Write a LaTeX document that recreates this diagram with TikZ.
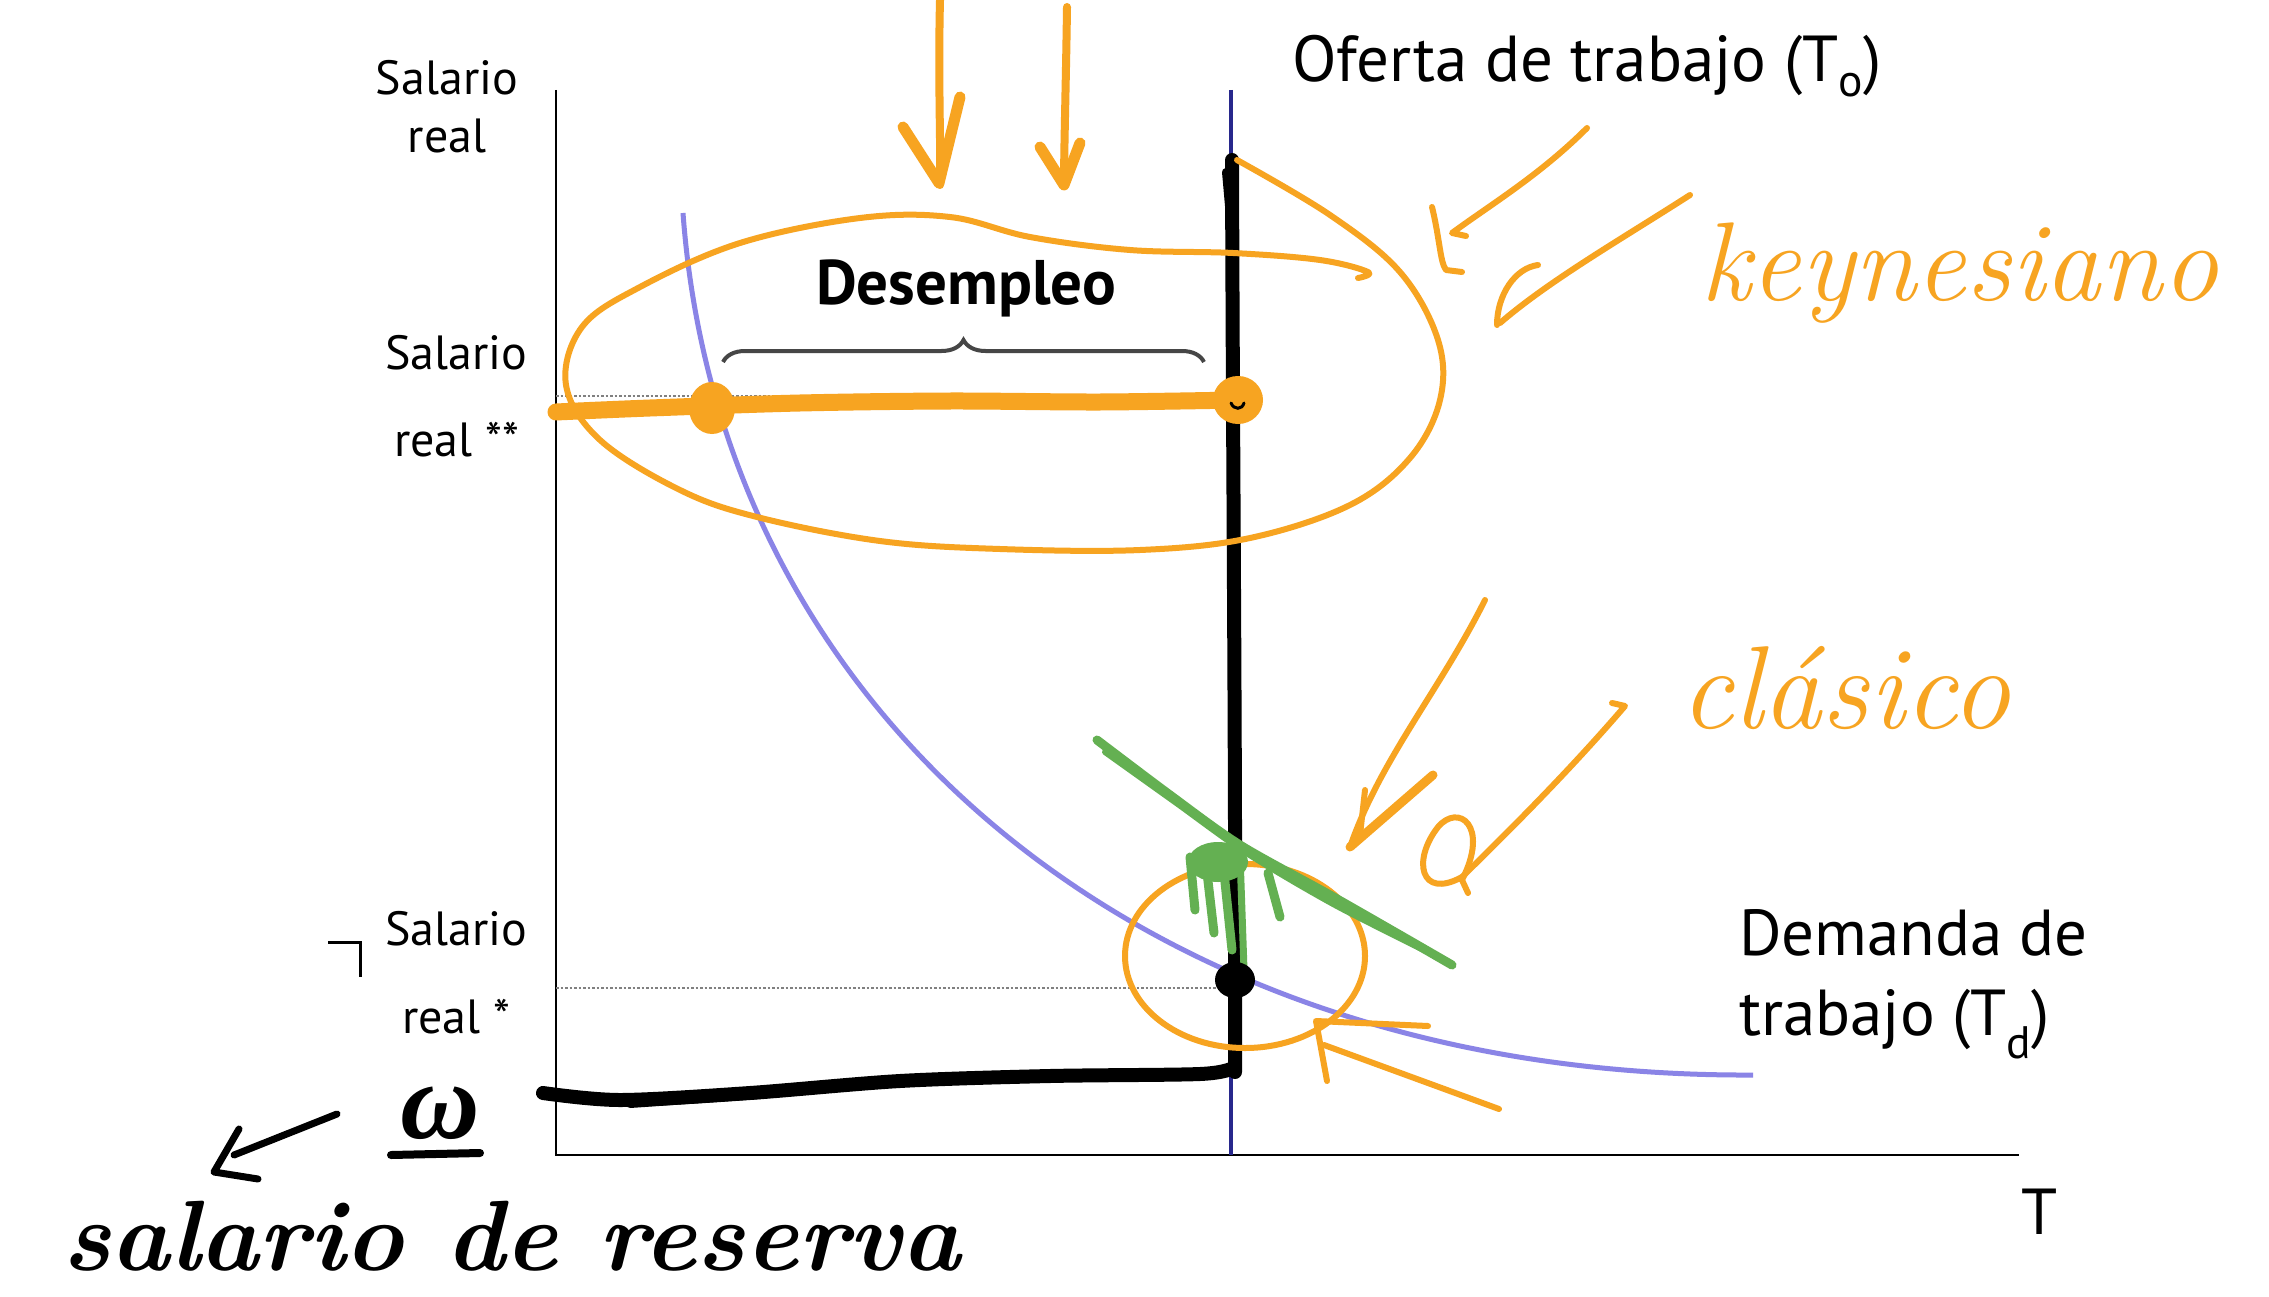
\documentclass[tikz,border=0pt]{standalone}
\usepackage{fontspec}
\setsansfont{PT Sans}
\newfontfamily\grk{Liberation Serif}
\usetikzlibrary{decorations.pathreplacing}
\definecolor{hor}{RGB}{247,164,33}
\definecolor{dem}{RGB}{138,132,230}
\definecolor{sup}{RGB}{40,40,140}
\definecolor{grn}{RGB}{100,176,82}
\definecolor{brc}{RGB}{70,70,70}
\begin{document}
\begin{tikzpicture}[x=1pt,y=-1pt,
  lbl/.style={font=\sffamily\fontsize{48}{58}\selectfont, inner sep=0pt},
  big/.style={font=\sffamily\fontsize{65}{78}\selectfont, inner sep=0pt, anchor=base west},
  hnd/.style={font=\rmfamily\itshape\fontsize{112}{130}\selectfont, inner sep=0pt, anchor=base west},
  ostroke/.style={draw=hor, line width=8, line cap=round, line join=round},
  othin/.style={draw=hor, line width=6, line cap=round, line join=round},
  kstroke/.style={draw=black, line width=7, line cap=round, line join=round},
  gstroke/.style={draw=grn, line width=9, line cap=round, line join=round}]
\useasboundingbox (0,0) rectangle (2269,1297);
\fill[white] (0,0) rectangle (2269,1297);

% axes
\coordinate (O) at (556,1155);
\coordinate (ytop) at (556,90);
\coordinate (xend) at (2019,1155);
\draw[line width=2.5] (ytop) -- (O) -- (xend);

% dotted guides
\coordinate (d1a) at (556,396); \coordinate (d1b) at (1231,396);
\coordinate (d2a) at (556,988); \coordinate (d2b) at (1231,988);
\draw[gray, line width=2.5, dotted] (d1a) -- (d1b);
\draw[gray, line width=2.5, dotted] (d2a) -- (d2b);

% demand curve
\coordinate (dtop) at (683,213);
\coordinate (dend) at (1753,1075);
\draw[dem, line width=5] (dtop) .. controls (720,720) and (1150,1078) .. (dend);

% supply line
\coordinate (stop) at (1231,90);
\coordinate (sbot) at (1231,1155);
\draw[sup, line width=4] (stop) -- (sbot);

% labels
\node[lbl, anchor=base] (s1) at (447,95) {Salario};
\node[lbl, anchor=base] (r1) at (447,153) {real};
\node[lbl, anchor=base west] (s2) at (385,369) {Salario};
\node[lbl, anchor=base west] (r2) at (394,456) {real **};
\node[lbl, anchor=base west] (s3) at (385,945) {Salario};
\node[lbl, anchor=base west] (r3) at (402,1033) {real *};
\node[big] (of) at (1292,82) {Oferta de trabajo (T\textsubscript{o})};
\node[big] (dm1) at (1739,955) {Demanda de};
\node[big] (dm2) at (1739,1035) {trabajo (T\textsubscript{d})};
\node[big, anchor=base] (T) at (2040,1234) {T};
\node[big, font=\sffamily\bfseries\fontsize{63}{76}\selectfont] (des) at (816,305) {Desempleo};

% brace
\coordinate (bra) at (723,362); \coordinate (brb) at (1204,362);
\draw[brc, line width=4, decorate, decoration={brace, amplitude=22}] (bra) -- (brb);

% black hand strokes
\draw[black, line width=14, line cap=round] (1232,160) .. controls (1233,500) and (1236,800) .. (1235,1072);
\draw[black, line width=8, line cap=round] (1226,172) -- (1232,240);
\draw[black, line width=14, line cap=round, line join=round] plot[smooth, tension=0.5] coordinates {(543,1093) (620,1100) (750,1093) (900,1081) (1050,1076) (1200,1074) (1233,1068)};
\draw[black, line width=8, line cap=round] (630,1104) -- (760,1095);

% orange thick unemployment line and dots
\draw[hor, line width=17, line cap=round] plot[smooth, tension=0.5] coordinates {(556,412) (650,408) (800,403) (950,401) (1100,402) (1237,400)};
\fill[hor] (712,408) ellipse [x radius=23, y radius=26];
\fill[hor] (1238,400) ellipse [x radius=25, y radius=24];
\draw[black, line width=3, line cap=round] (1231,403) .. controls (1234,410) and (1242,410) .. (1244,403);

% big orange loop
\draw[othin] plot[smooth, tension=0.6] coordinates {(1237,160) (1330,215) (1400,272) (1438,340) (1440,400) (1410,458) (1350,505) (1250,538) (1140,550) (1000,549) (880,541) (757,517) (680,490) (600,440) (566,385) (582,327) (640,287) (740,243) (860,218) (950,217) (1030,237) (1130,250) (1233,253) (1320,260) (1368,272) (1358,278)};

% top arrows
\draw[ostroke] (940,0) .. controls (938,80) and (941,150) .. (940,185);
\draw[ostroke, line width=11] (903,127) -- (939,183) -- (960,97);
\draw[ostroke] (1067,7) .. controls (1066,80) and (1064,150) .. (1064,185);
\draw[ostroke, line width=11] (1040,147) -- (1064,185) -- (1080,143);

% arrows toward keynesiano
\draw[othin] (1587,128) .. controls (1540,175) and (1490,205) .. (1452,233) -- (1466,236);
\draw[othin] (1432,207) .. controls (1440,240) and (1440,262) .. (1446,270) -- (1462,272);
\draw[othin] (1690,195) .. controls (1620,240) and (1550,280) .. (1500,323);
\draw[othin] (1538,265) .. controls (1515,268) and (1497,295) .. (1497,325);

% arrows toward clasico
\draw[othin] (1485,600) .. controls (1440,690) and (1380,760) .. (1350,847);
\draw[ostroke, line width=9] (1350,847) -- (1433,775);
\draw[othin] (1365,790) -- (1360,835);
\draw[othin] (1612,703) -- (1625,706) .. controls (1570,770) and (1510,830) .. (1462,877);
\draw[othin] (1462,877) .. controls (1420,900) and (1412,860) .. (1438,827) .. controls (1458,803) and (1490,825) .. (1462,880) -- (1468,893);

% small orange circle and arrow
\draw[othin] (1245,956) ellipse [x radius=120, y radius=92];
\draw[othin] (1428,1026) -- (1316,1021) -- (1327,1081);
\draw[othin] (1324,1045) -- (1499,1109);

% green scribble
\draw[gstroke] plot[smooth, tension=0.5] coordinates {(1097,740) (1170,795) (1240,845) (1330,895) (1400,935) (1452,965)};
\draw[gstroke, line width=6] plot[smooth, tension=0.5] coordinates {(1105,752) (1175,802) (1245,852) (1335,905) (1440,958)};
\fill[grn] (1218,862) ellipse [x radius=30, y radius=20];
\draw[gstroke] (1190,857) -- (1195,910);
\draw[gstroke] (1205,855) -- (1214,933);
\draw[gstroke] (1222,853) -- (1232,950);
\draw[gstroke] (1268,873) -- (1280,917);
\draw[gstroke, line width=7] (1240,855) -- (1244,970);

% black equilibrium dot
\fill[black] (1235,980) ellipse [x radius=20, y radius=18];

% handwritten words
\node[hnd, text=hor] (key) at (1700,300) {keynesiano};
\node[hnd, text=hor, font=\rmfamily\itshape\fontsize{118}{130}\selectfont] (cla) at (1680,728) {clásico};
\node[hnd, text=black, font=\rmfamily\itshape\bfseries\fontsize{100}{120}\selectfont] (res) at (62,1270) {salario de reserva};
\node[inner sep=0pt, font=\grk\bfseries\itshape\fontsize{110}{130}\selectfont, anchor=base] (om) at (440,1138) {ω};
\coordinate (ula) at (391,1155); \coordinate (ulb) at (480,1153);
\draw[kstroke, line width=8] (ula) -- (ulb);

% black arrow to omega label
\coordinate (ka) at (337,1114); \coordinate (kb) at (234,1155);
\draw[kstroke] (ka) -- (kb);
\draw[kstroke] (239,1129) -- (214,1172) -- (258,1179);

% corner mark
\draw[black, line width=3] (328,942) -- (360,942) -- (360,977);
\end{tikzpicture}
\end{document}
